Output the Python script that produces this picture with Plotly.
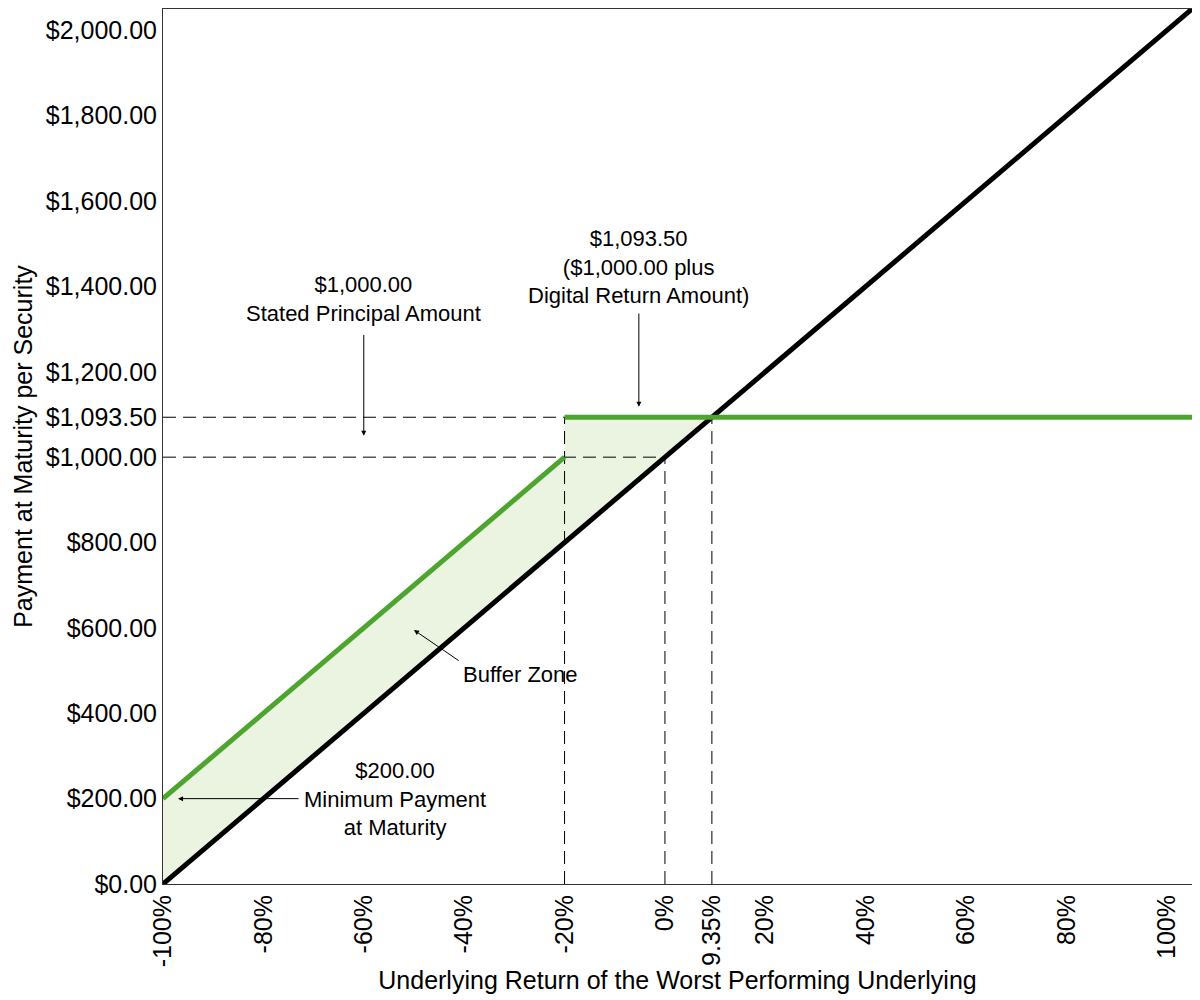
import plotly.graph_objects as go

# payoff lines (x in % return, y in $ per security)
stock_x = [-100, 105]
stock_y = [0, 2050]
# None breaks the line at the digital jump
note_x = [-100, -20, None, -20, 105]
note_y = [200, 1000, None, 1093.5, 1093.5]

# buffer zone polygon
zone_x = [-100, -100, -20, -20, 9.35, -100]
zone_y = [0, 200, 1000, 1093.5, 1093.5, 0]

# dashed guide lines
guides = [
    ([-100, 9.35], [1093.5, 1093.5]),
    ([-100, 0], [1000, 1000]),
    ([-20, -20], [0, 1093.5]),
    ([0, 0], [0, 1000]),
    ([9.35, 9.35], [0, 1093.5]),
]

x_ticks = [-100, -80, -60, -40, -20, 0, 9.35, 20, 40, 60, 80, 100]
x_labels = ["-100%", "-80%", "-60%", "-40%", "-20%", "0%", "9.35%", "20%", "40%", "60%", "80%", "100%"]
y_ticks = [0, 200, 400, 600, 800, 1000, 1093.5, 1200, 1400, 1600, 1800, 2000]
y_labels = ["$0.00", "$200.00", "$400.00", "$600.00", "$800.00", "$1,000.00", "$1,093.50",
            "$1,200.00", "$1,400.00", "$1,600.00", "$1,800.00", "$2,000.00"]

GREEN = "#4DA52F"

fig = go.Figure()
fig.add_trace(go.Scatter(x=zone_x, y=zone_y, mode="lines", fill="toself",
                         fillcolor="#EBF4E1", line=dict(width=0), hoverinfo="skip"))
for gx, gy in guides:
    fig.add_trace(go.Scatter(x=gx, y=gy, mode="lines",
                             line=dict(color="black", width=1, dash="13px,7px")))
fig.add_trace(go.Scatter(x=stock_x, y=stock_y, mode="lines", line=dict(color="black", width=5)))
fig.add_trace(go.Scatter(x=note_x, y=note_y, mode="lines", line=dict(color=GREEN, width=5)))

font = dict(family="Liberation Sans, Arial, sans-serif", size=22, color="black")
arrow = dict(showarrow=True, arrowhead=2, arrowsize=1, arrowwidth=1, arrowcolor="black",
             axref="x", ayref="y", font=font)

fig.add_annotation(x=-60, y=1050, ax=-60, ay=1290, text="", **arrow)
fig.add_annotation(x=-60, y=1302, text="$1,000.00<br>Stated Principal Amount",
                   showarrow=False, font=font, yanchor="bottom")

fig.add_annotation(x=-5.2, y=1118, ax=-5.2, ay=1340, text="", **arrow)
fig.add_annotation(x=-5.2, y=1345, text="$1,093.50<br>($1,000.00 plus<br>Digital Return Amount)",
                   showarrow=False, font=font, yanchor="bottom")

fig.add_annotation(x=-50, y=595, ax=-40.8, ay=521, text="", **arrow)
fig.add_annotation(x=-40.6, y=492, text="Buffer Zone", showarrow=False, font=font, xanchor="left")

fig.add_annotation(x=-97, y=200, ax=-72.7, ay=200, text="", **arrow)
fig.add_annotation(x=-53.8, y=200, text="$200.00<br>Minimum Payment<br>at Maturity",
                   showarrow=False, font=font)

fig.update_layout(
    width=1192, height=992,
    margin=dict(l=155, r=8, t=1, b=116),
    plot_bgcolor="white", paper_bgcolor="white",
    showlegend=False,
    font=font,
)
fig.update_xaxes(
    range=[-100, 105], tickvals=x_ticks, ticktext=x_labels, tickangle=-90,
    tickfont=dict(size=25), showgrid=False, zeroline=False,
    showline=True, linecolor="#333333", linewidth=1, mirror=True, ticks="",
    title=dict(text="Underlying Return of the Worst Performing Underlying", font=dict(size=25), standoff=4),
)
fig.update_yaxes(
    range=[0, 2050], tickvals=y_ticks, ticktext=y_labels,
    tickfont=dict(size=25), showgrid=False, zeroline=False,
    showline=True, linecolor="#333333", linewidth=1, mirror=True, ticks="",
    title=dict(text="Payment at Maturity per Security", font=dict(size=25), standoff=6),
)

fig.write_html("out.html")
